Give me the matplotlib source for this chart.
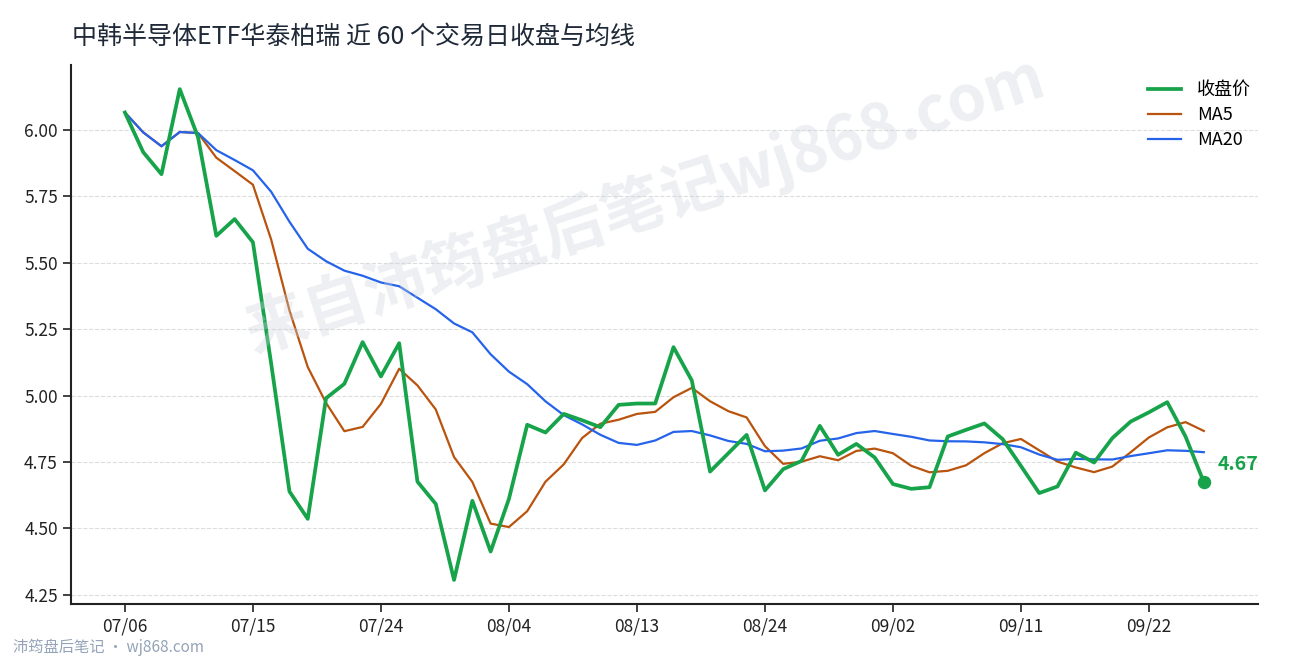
import numpy as np
import pandas as pd
import matplotlib
matplotlib.use("Agg")
import matplotlib.pyplot as plt

plt.rcParams['font.family'] = ['Noto Sans CJK SC', 'DejaVu Sans']

# 交易日 (2020-07-06 起 60 个)
dates = ['07/06', '07/07', '07/08', '07/09', '07/10', '07/13', '07/14', '07/15', '07/16', '07/17',
         '07/20', '07/21', '07/22', '07/23', '07/24', '07/27', '07/28', '07/29', '07/30', '07/31',
         '08/03', '08/04', '08/05', '08/06', '08/07', '08/10', '08/11', '08/12', '08/13', '08/14',
         '08/17', '08/18', '08/19', '08/20', '08/21', '08/24', '08/25', '08/26', '08/27', '08/28',
         '08/31', '09/01', '09/02', '09/03', '09/04', '09/07', '09/08', '09/09', '09/10', '09/11',
         '09/14', '09/15', '09/16', '09/17', '09/18', '09/21', '09/22', '09/23', '09/24', '09/25']

# 收盘价
close = [6.065, 5.916, 5.833, 6.153, 5.972, 5.601, 5.664, 5.577, 5.120, 4.639,
         4.536, 4.990, 5.044, 5.201, 5.072, 5.197, 4.676, 4.592, 4.306, 4.604,
         4.413, 4.611, 4.890, 4.861, 4.931, 4.907, 4.881, 4.965, 4.970, 4.970,
         5.182, 5.057, 4.714, 4.783, 4.852, 4.643, 4.723, 4.754, 4.886, 4.777,
         4.818, 4.767, 4.667, 4.649, 4.655, 4.846, 4.871, 4.895, 4.836, 4.735,
         4.633, 4.658, 4.785, 4.748, 4.840, 4.902, 4.937, 4.975, 4.846, 4.674]

yticks = [4.25, 4.50, 4.75, 5.00, 5.25, 5.50, 5.75, 6.00]

s = pd.Series(close)
ma5 = s.rolling(5, min_periods=1).mean()
ma20 = s.rolling(20, min_periods=1).mean()
x = np.arange(len(close))

fig = plt.figure(figsize=(12.9, 6.6), dpi=100)
ax = fig.add_axes([0.055, 0.085, 0.92, 0.817])

ax.plot(x, close, color='#16a34a', lw=2.7, label='收盘价', zorder=4)
ax.plot(x, ma5, color='#b9530d', lw=1.6, label='MA5', zorder=3)
ax.plot(x, ma20, color='#2563eb', lw=1.6, label='MA20', zorder=3)

ax.scatter([x[-1]], [close[-1]], s=75, color='#16a34a', zorder=5)
ax.annotate(f'{close[-1]:.2f}', (x[-1], close[-1]), xytext=(10, 6),
            textcoords='offset points', color='#16a34a', fontsize=14,
            fontweight='bold', va='bottom', ha='left')

ax.set_xlim(-2.95, 61.95)
ax.set_ylim(4.216, 6.245)
ax.set_xticks(x[::7])
ax.set_xticklabels(dates[::7])
ax.set_yticks(yticks)
ax.set_yticklabels([f'{v:.2f}' for v in yticks])
ax.tick_params(labelsize=12.5, colors='#222222', length=6, width=1.2)

ax.grid(axis='y', ls='--', color='#dddddd', lw=0.8)
ax.set_axisbelow(True)
for side in ['top', 'right']:
    ax.spines[side].set_visible(False)
for side in ['left', 'bottom']:
    ax.spines[side].set_linewidth(1.5)
    ax.spines[side].set_color('#222222')

ax.legend(loc='upper right', frameon=False, fontsize=13, handlelength=1.8,
          handletextpad=0.9, labelspacing=0.4, bbox_to_anchor=(1.008, 1.0))

fig.text(0.056, 0.944, '中韩半导体ETF华泰柏瑞 近 60 个交易日收盘与均线',
         fontsize=18, color='#1f2937', va='center', ha='left')

# 水印
fig.text(0.50, 0.69, '来自沛筠盘后笔记wj868.com', fontsize=45, fontweight='bold',
         color='#cbd2dc', alpha=0.35, rotation=18, ha='center', va='center', zorder=0)
fig.text(0.010, 0.006, '沛筠盘后笔记 · wj868.com', fontsize=11, color='#94a3b8',
         ha='left', va='bottom')

fig.savefig('out.png', dpi=100)
